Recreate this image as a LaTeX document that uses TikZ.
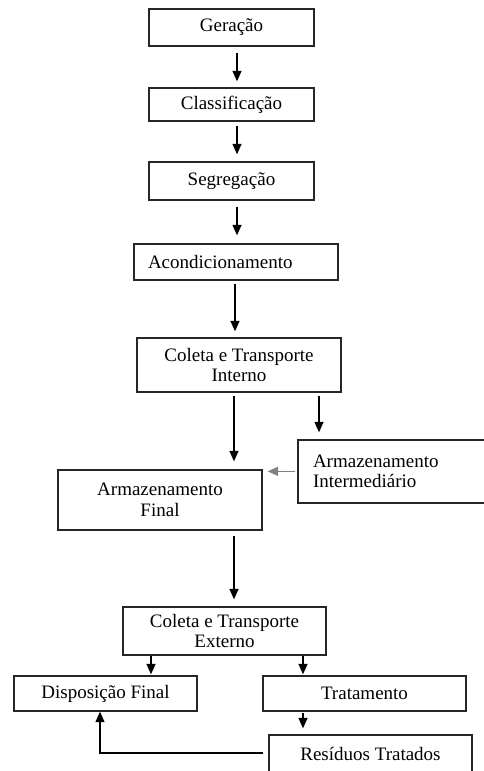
\documentclass[tikz,border=0pt]{standalone}
\usepackage{fontspec}
\setmainfont{Liberation Serif}
\usepackage{tikz}
\usetikzlibrary{arrows.meta}

\begin{document}
\begin{tikzpicture}[x=1pt, y=-1pt,
	caixa/.style={draw=black!85, line width=1.3pt, inner sep=0pt, align=center, font=\fontsize{19}{20.5}\selectfont},
	pil/.style={-{Triangle[length=10.5pt,width=9pt]}, line width=1.3pt}]
		\path[use as bounding box, fill=white] (0, 0) rectangle (483, 771);
		\draw[color=black]
		node[caixa,minimum width=165pt,minimum height=37pt] (geracao) at (231.5, 27.5){Geração}
		node[caixa,minimum width=165pt,minimum height=33pt] (classif) at (231.5, 104.5){Classificação}
		node[caixa,minimum width=165pt,minimum height=38pt] (segreg) at (231.5, 181){Segregação}
		node[caixa,minimum height=36pt,text width=176pt,align=left,inner xsep=14pt] (acond) at (236, 262){Acondicionamento}
		node[caixa,minimum width=204pt,minimum height=54pt] (colint) at (239, 365){Coleta e Transporte\\Interno}
		node[caixa,minimum height=63pt,text width=172pt,align=left,inner xsep=15pt] (intermed) at (399, 471.5){Armazenamento\\Intermediário}
		node[caixa,minimum width=204pt,minimum height=60pt] (final) at (160, 500){Armazenamento\\Final}
		node[caixa,minimum width=203pt,minimum height=48pt] (colext) at (224.5, 631){Coleta e Transporte\\Externo}
		node[caixa,minimum width=183pt,minimum height=35pt] (disp) at (105.5, 693.5){Disposição Final}
		node[caixa,minimum width=203pt,minimum height=35pt] (trat) at (364.5, 693.5){Tratamento}
		node[caixa,minimum width=203pt,minimum height=38pt] (resid) at (370.5, 754){Resíduos Tratados};
		\draw [pil, shorten <=6pt, shorten >=6pt] ([xshift=5.5pt]geracao.south) -- ([xshift=5.5pt]classif.north);
		\draw [pil, shorten <=4pt, shorten >=7pt] ([xshift=5.5pt]classif.south) -- ([xshift=5.5pt]segreg.north);
		\draw [pil, shorten <=6pt, shorten >=8pt] ([xshift=5.5pt]segreg.south) -- ([xshift=1pt]acond.north);
		\draw [pil, shorten <=3pt, shorten >=6pt] ([xshift=-1pt]acond.south) -- ([xshift=-4pt]colint.north);
		\draw [pil, shorten <=3pt, shorten >=8pt] ([xshift=-5pt]colint.south) coordinate (ci1) -- (ci1 |- final.north);
			\draw [pil, shorten <=3pt, shorten >=7pt] ([xshift=80pt]colint.south) coordinate (ci2) -- (ci2 |- intermed.north);
		\coordinate (fin-in) at ([yshift=-2pt]final.north east);
		\draw [pil, gray, shorten <=2pt, shorten >=5pt] (fin-in -| intermed.west) -- (fin-in);
		\draw [pil, shorten <=5pt, shorten >=7pt] ([xshift=74pt]final.south) coordinate (fi1) -- (fi1 |- colext.north);
		\draw [pil, shorten >=1pt] ([xshift=45.5pt]disp.north) coordinate (di1) (colext.south -| di1) -- (di1);
		\draw [pil, shorten >=1pt] ([xshift=-61.5pt]trat.north) coordinate (tr1) (colext.south -| tr1) -- (tr1);
			\draw [pil, shorten <=1pt, shorten >=6pt] ([xshift=-61.5pt]trat.south) coordinate (tr2) -- (tr2 |- resid.north);
		\draw [pil, shorten <=5pt] ([yshift=1pt]resid.west) -| ([xshift=-5.5pt]disp.south);
		\end{tikzpicture}
\end{document}
